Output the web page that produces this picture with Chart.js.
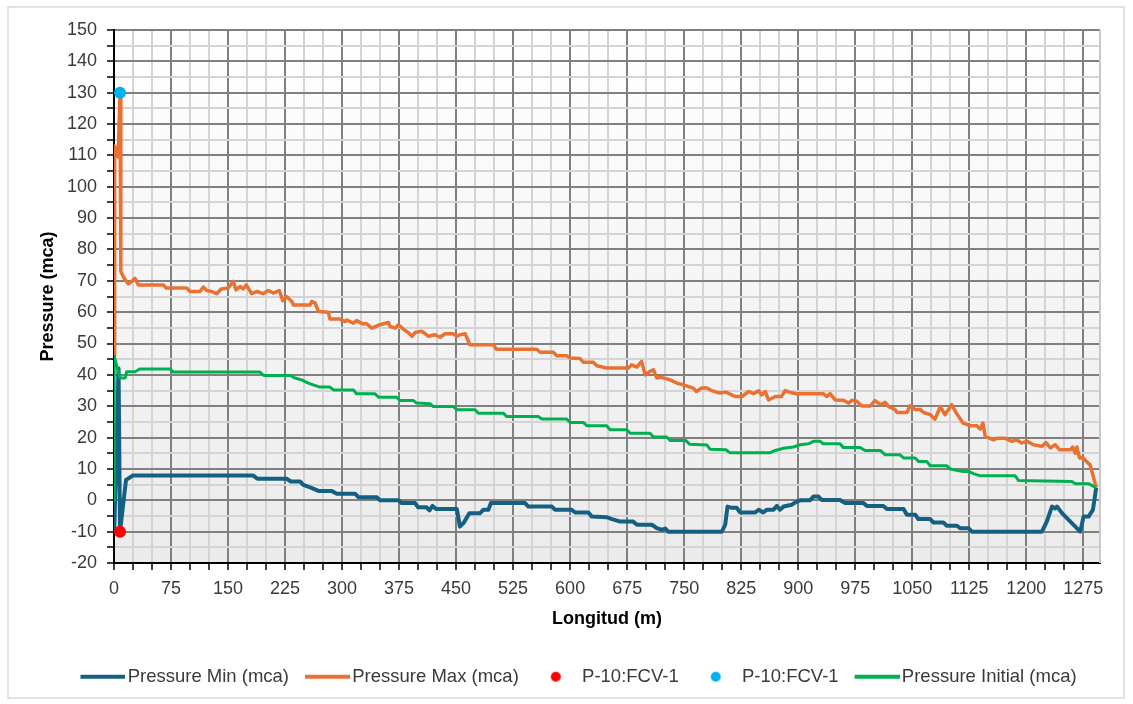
<!DOCTYPE html>
<html>
<head>
<meta charset="utf-8">
<script src="https://cdn.jsdelivr.net/npm/chart.js@4.4.1/dist/chart.umd.min.js"></script>
<style>
    body { margin: 0; background: #ffffff; }
</style>
</head>
<body>
<canvas id="char_pressure" width="1133" height="704"></canvas>
<script>
// [longitud (m), pressure (mca)]
var pressureMin = [
    [0, 0], [0.3, -10], [6, 42], [7.9, -10], [15.8, 6.5], [19, 7], [25, 7.9], [183, 7.9],
    [188.6, 6.9], [227, 6.9], [232.5, 6], [244.7, 6], [249, 4.9], [258, 4.1], [269, 3],
    [286, 3], [293, 2.1], [317, 2.1], [321.5, 1], [345.6, 1], [350, 0], [374, 0],
    [378.5, -0.9], [396, -0.9], [400, -2.2], [411, -2.2], [415, -3.2], [419, -1.8],
    [423.7, -2.8], [451, -2.8], [455, -8.4], [459.6, -7.3], [467.6, -4.1], [481.6, -4.1],
    [486, -3], [492.5, -3], [495.7, -0.9], [540.8, -0.9], [545, -2], [576, -2], [580, -3],
    [602, -3], [606.6, -3.9], [624, -3.9], [628.6, -5.2], [648, -5.4], [655, -6],
    [666, -6.8], [683, -6.8], [688, -7.8], [707.5, -7.8], [714, -8.9], [720.6, -9.4],
    [725, -9], [729, -10], [799.6, -10], [804, -7.8], [807, -2], [813, -2.4], [819, -2.4],
    [823.7, -3.9], [843.4, -3.9], [848, -3], [854, -3.9], [858.8, -3], [867.5, -3],
    [872, -1.8], [876, -3], [880.7, -2], [891.7, -1.4], [896, -0.7], [902.6, 0],
    [915.8, 0], [920, 1.2], [926.7, 1.2], [931, 0.1], [955, 0.1], [961.8, -0.9],
    [986, -0.9], [990.4, -1.8], [1012, -1.8], [1016.7, -2.8], [1038.6, -2.8],
    [1043, -4.6], [1054, -4.6], [1058, -6], [1073.7, -6], [1078, -7.1], [1091, -7.1],
    [1095.6, -8.1], [1109, -8.1], [1113, -8.9], [1124, -8.9], [1128.5, -10],
    [1220.6, -10], [1227, -6.8], [1233.8, -2], [1238, -2.6], [1240.4, -2], [1247, -4.1],
    [1271, -10], [1275.4, -5.2], [1282, -5.2], [1287.7, -3], [1292, 4]
];

var pressureMax = [
    [0, 46], [0.8, 113], [5.5, 109.5], [7.9, 130], [9, 73], [13, 71], [19, 69], [24, 70],
    [27.6, 70.8], [32, 68.7], [65, 68.7], [68.6, 67.7], [95.6, 67.7], [100, 66.6],
    [113, 66.6], [117.5, 68], [122, 66.9], [128.5, 66.6], [135, 65.9], [141, 67.4],
    [150, 67.7], [157, 69.8], [160.5, 67.1], [166, 68.2], [170, 67.4], [174, 68.7],
    [181, 65.9], [188, 66.6], [196, 65.9], [203, 66.9], [209.6, 66.1], [217.5, 66.9],
    [222, 63.7], [227, 65], [234, 63.4], [236, 62.3], [258, 62.3], [260, 63.4],
    [264.5, 63], [269, 60.2], [282, 60], [284, 57.8], [297, 57.8], [304, 57],
    [306, 57.5], [315, 56.5], [319, 57.3], [328, 56.2], [332, 56.4], [339, 54.9],
    [350, 56], [361, 56.7], [363, 55.5], [370, 54.9], [374, 56], [380.7, 54.6],
    [387, 53.5], [392, 52.3], [396, 53.5], [405, 53.9], [409, 53.2], [413.6, 52.3],
    [422, 52.8], [429, 52], [435.5, 53.1], [446.5, 53.1], [451, 52.3], [455, 52.8],
    [462, 53.1], [468, 49.6], [499, 49.6], [503, 48.2], [556, 48.2], [560.5, 47.2],
    [578, 47.2], [582.5, 46.1], [595.6, 46.1], [600, 45.4], [613, 45.2], [617.5, 44],
    [630.6, 44], [635, 42.9], [648, 42.2], [676.7, 42.2], [681, 43.2], [687.7, 42.5],
    [694, 44.3], [698.7, 40], [705, 41.1], [709.6, 41.6], [714, 39], [720, 39.2],
    [731.6, 38.4], [740, 37.4], [749, 36.8], [762, 35.8], [766, 34.7], [773, 35.8],
    [780, 35.8], [786, 35], [797, 34.2], [805, 34.5], [817, 33.1], [826, 33.1],
    [835, 34.7], [841, 34], [848, 34.9], [852, 33.6], [856.6, 34.7], [861, 32],
    [870, 33.1], [878, 33.1], [883, 35], [889.5, 34.4], [897.6, 34], [933, 34],
    [937.7, 33.1], [942, 34], [948.7, 32], [959.6, 31.9], [966, 31], [970.6, 31.9],
    [977, 31.6], [983.5, 30.1], [995, 30.1], [1001, 31.8], [1008, 30.5], [1014.5, 31.2],
    [1019, 29.9], [1027.6, 28.9], [1030, 28], [1043, 28], [1047, 30.1], [1054, 28.9],
    [1060.5, 29], [1065, 28], [1073.7, 27.3], [1080, 25.9], [1087, 29.9], [1093, 27.3],
    [1102, 30.5], [1108, 27.8], [1117, 24.6], [1126, 23.8], [1135, 23.8], [1139.5, 22.7],
    [1143, 24.6], [1146, 20.4], [1157, 19.3], [1162, 19.8], [1172, 19.8], [1181, 18.8],
    [1187, 19.3], [1194, 18.3], [1201, 18.8], [1209.6, 17.7], [1220.6, 17.2],
    [1226, 18.4], [1231.6, 16.7], [1238, 17.7], [1244, 16.1], [1258, 16.1], [1261, 17],
    [1264.5, 15], [1266.7, 17], [1270, 13.5], [1274.6, 13.6], [1279, 12.4],
    [1284, 11.3], [1287.6, 8.1], [1292, 4]
];

var pressureInitial = [
    [0, 0], [0.3, 45.9], [8, 39], [14.5, 39], [16.7, 41], [27.6, 41], [34, 41.9],
    [73.7, 41.9], [78, 40.9], [192, 40.9], [197, 39.8], [231.6, 39.8], [238, 39],
    [246.7, 38.4], [255.6, 37.4], [262, 36.8], [271, 36.1], [284, 36.1], [288.6, 35.2],
    [315, 35.2], [319, 34], [343, 34], [348, 32.9], [372, 32.9], [376, 31.8], [394, 31.8],
    [398, 31], [416, 30.8], [420, 29.9], [446.6, 29.9], [451, 28.9], [475, 28.9],
    [479, 27.8], [512, 27.8], [516.7, 26.7], [558, 26.7], [562.8, 25.9], [595.6, 25.9],
    [600, 24.8], [617.5, 24.8], [622, 23.8], [648, 23.8], [652.6, 22.5], [674.6, 22.5],
    [679, 21.4], [705, 21.4], [709.6, 20.2], [727, 20.2], [731.6, 19.1], [752, 19.1],
    [757, 17.9], [780, 17.6], [784, 16.3], [805, 16.1], [810, 15.2], [863, 15.2],
    [870, 15.9], [880.7, 16.6], [893.8, 17], [902.6, 17.7], [913.6, 18], [920, 18.8],
    [929, 18.8], [933, 18], [955, 18], [959.6, 16.8], [981.6, 16.8], [988, 15.9],
    [1008, 15.9], [1014.5, 14.5], [1034, 14.5], [1038.6, 13.5], [1054, 13.5],
    [1058.3, 12.4], [1069, 12.4], [1073.7, 11], [1095.6, 11], [1100, 10], [1117, 9.2],
    [1124, 9.2], [1130.6, 8.5], [1139.5, 7.8], [1185.5, 7.8], [1190, 6.3], [1260, 6],
    [1264.5, 5.3], [1282, 5.3], [1292, 4]
];

var fcvMinPoint = [[7.9, -10]];
var fcvMaxPoint = [[7.9, 130]];

var seriesLabels = ["Pressure Min (mca)", "Pressure Max (mca)", "P-10:FCV-1", "P-10:FCV-1", "Pressure Initial (mca)"];
var seriesColors = ["#156082", "#E97132", "#FF0000", "#00B0F0", "#00B050"];

var xMax = 1297, xStep = 25, xLabelStep = 75;
var yMin = -20, yMax = 150, yStep = 5, yLabelStep = 10;

function toXY(rows) {
    return rows.map(function (r) { return { x: r[0], y: r[1] }; });
}

function lineIcon(color) {
    var c = document.createElement("canvas");
    c.width = 58; c.height = 6;
    var g = c.getContext("2d");
    g.strokeStyle = color; g.lineWidth = 4;
    g.beginPath(); g.moveTo(13, 3); g.lineTo(58, 3); g.stroke();
    return c;
}

function dotIcon(color) {
    var c = document.createElement("canvas");
    c.width = 24; c.height = 12;
    var g = c.getContext("2d");
    g.fillStyle = color;
    g.beginPath(); g.arc(17, 6, 5, 0, Math.PI * 2); g.fill();
    return c;
}

var legendIcons = [
    lineIcon(seriesColors[0]), lineIcon(seriesColors[1]),
    dotIcon(seriesColors[2]), dotIcon(seriesColors[3]),
    lineIcon(seriesColors[4])
];

var chartFrame = {
    id: "chartFrame",
    afterLayout: function (chart) {
        // legend row sits a little right of centre in the original
        if (chart.legend) {
            chart.legend.left += 9;
            chart.legend.right += 9;
        }
    },
    beforeDraw: function (chart) {
        var ctx = chart.ctx, a = chart.chartArea;
        ctx.save();
        ctx.fillStyle = "#ffffff";
        ctx.fillRect(0, 0, chart.width, chart.height);
        ctx.strokeStyle = "#d9d9d9";
        ctx.lineWidth = 1.5;
        ctx.strokeRect(8, 7, chart.width - 17, chart.height - 13);
        var grad = ctx.createLinearGradient(0, a.top, 0, a.bottom);
        grad.addColorStop(0, "#ffffff");
        grad.addColorStop(1, "#ebebeb");
        ctx.fillStyle = grad;
        ctx.fillRect(a.left, a.top, a.right - a.left, a.bottom - a.top);
        ctx.restore();
    },
    beforeDatasetsDraw: function (chart) {
        var ctx = chart.ctx, a = chart.chartArea;
        ctx.save();
        ctx.strokeStyle = "#c8c8c8";
        ctx.lineWidth = 2;
        ctx.beginPath();
        ctx.moveTo(a.right, a.top);
        ctx.lineTo(a.right, a.bottom);
        ctx.stroke();
        ctx.restore();
    }
};

Chart.defaults.font.family = '"Liberation Sans", Arial, sans-serif';
Chart.defaults.font.size = 18;
Chart.defaults.color = "#3a3a3a";

var chart = document.getElementById("char_pressure");
if (chart != null) {
    var chartCtx = chart.getContext("2d");
    var myChart = new Chart(chartCtx, {
        type: "scatter",
        data: {
            datasets: [
                {
                    label: seriesLabels[0],
                    data: toXY(pressureMin),
                    showLine: true,
                    borderColor: seriesColors[0],
                    backgroundColor: seriesColors[0],
                    borderWidth: 4,
                    borderJoinStyle: "round",
                    pointRadius: 0,
                    order: 3,
                },
                {
                    label: seriesLabels[1],
                    data: toXY(pressureMax),
                    showLine: true,
                    borderColor: seriesColors[1],
                    backgroundColor: seriesColors[1],
                    borderWidth: 3.5,
                    borderJoinStyle: "round",
                    pointRadius: 0,
                    order: 2,
                },
                {
                    label: seriesLabels[2],
                    data: toXY(fcvMinPoint),
                    backgroundColor: seriesColors[2],
                    borderWidth: 0,
                    pointRadius: 6,
                    order: 0,
                },
                {
                    label: seriesLabels[3],
                    data: toXY(fcvMaxPoint),
                    backgroundColor: seriesColors[3],
                    borderWidth: 0,
                    pointRadius: 6,
                    order: 0,
                },
                {
                    label: seriesLabels[4],
                    data: toXY(pressureInitial),
                    showLine: true,
                    borderColor: seriesColors[4],
                    backgroundColor: seriesColors[4],
                    borderWidth: 3,
                    borderJoinStyle: "round",
                    pointRadius: 0,
                    order: 1,
                },
            ],
        },
        options: {
            responsive: false,
            animation: false,
            devicePixelRatio: 1,
            events: [],
            layout: {
                padding: { left: 33, top: 30, right: 33, bottom: 8 },
            },
            plugins: {
                tooltip: { enabled: false },
                legend: {
                    position: "bottom",
                    labels: {
                        usePointStyle: true,
                        pointStyleWidth: 44,
                        padding: 10,
                        color: "#3a3a3a",
                        font: { size: 18.5 },
                        generateLabels: function (c) {
                            var items = Chart.defaults.plugins.legend.labels.generateLabels(c);
                            items.sort(function (a, b) { return a.datasetIndex - b.datasetIndex; });
                            items.forEach(function (it) {
                                it.pointStyle = legendIcons[it.datasetIndex];
                            });
                            return items;
                        },
                    },
                },
            },
            scales: {
                x: {
                    type: "linear",
                    min: 0,
                    max: xMax,
                    afterBuildTicks: function (scale) {
                        var t = [];
                        for (var v = 0; v <= xMax; v += xStep) t.push({ value: v });
                        scale.ticks = t;
                    },
                    afterFit: function (scale) {
                        scale.height = 94.5;
                    },
                    ticks: {
                        autoSkip: false,
                        maxRotation: 0,
                        minRotation: 0,
                        padding: 8,
                        callback: function (value) {
                            return value % xLabelStep === 0 ? value : "";
                        },
                    },
                    grid: {
                        color: function (ctx) {
                            return ctx.tick && ctx.tick.value % xLabelStep === 0 ? "#808080" : "#d4d4d4";
                        },
                        lineWidth: 2,
                        tickColor: "#000000",
                        tickLength: 7,
                        tickWidth: 1.5,
                    },
                    border: { color: "#000000", width: 2 },
                    title: {
                        display: true,
                        text: "Longitud (m)",
                        color: "#000000",
                        font: { size: 18, weight: "bold" },
                        padding: { top: 0, bottom: 28 },
                    },
                },
                y: {
                    min: yMin,
                    max: yMax,
                    afterFit: function (scale) {
                        scale.width = 81;
                    },
                    ticks: {
                        stepSize: yStep,
                        autoSkip: false,
                        padding: 10,
                        callback: function (value) {
                            return value % yLabelStep === 0 ? value : "";
                        },
                    },
                    grid: {
                        color: function (ctx) {
                            return ctx.tick && ctx.tick.value % yLabelStep === 0 ? "#808080" : "#d4d4d4";
                        },
                        lineWidth: 2,
                        tickColor: "#000000",
                        tickLength: 7,
                        tickWidth: 1.5,
                    },
                    border: { color: "#000000", width: 2 },
                    title: {
                        display: true,
                        text: "Pressure (mca)",
                        color: "#000000",
                        font: { size: 18, weight: "bold" },
                        padding: { top: 4, bottom: 4 },
                    },
                },
            },
        },
        plugins: [chartFrame],
    });
}
</script>
</body>
</html>
